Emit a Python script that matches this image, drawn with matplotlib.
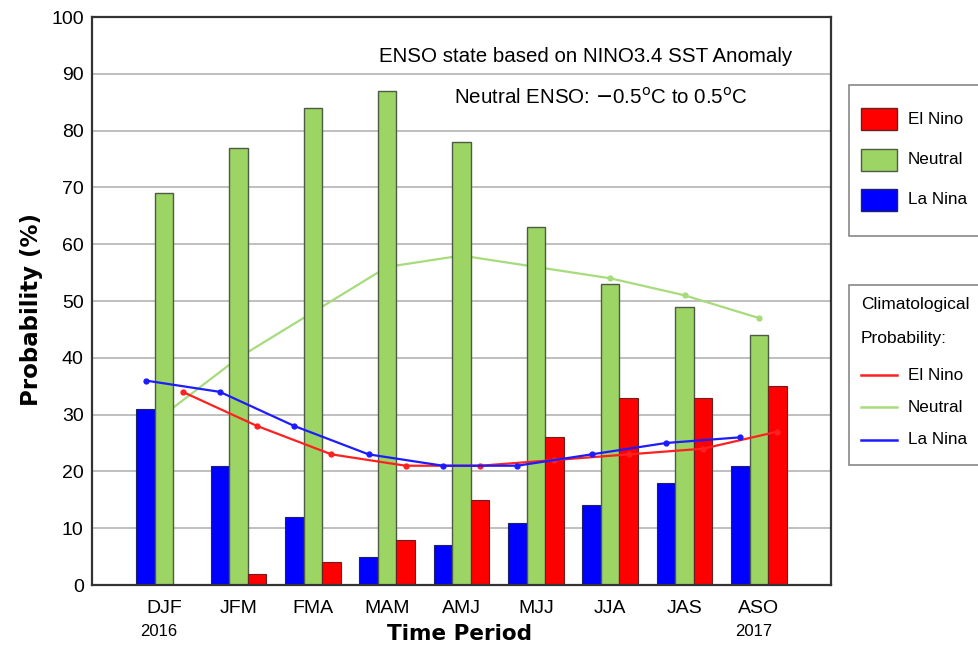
import matplotlib
matplotlib.use("Agg")
import matplotlib.pyplot as plt
import matplotlib.transforms as mtransforms
from matplotlib.patches import Rectangle
from matplotlib.lines import Line2D
import numpy as np

plt.rcParams['font.family'] = ['Liberation Sans', 'DejaVu Sans']

periods = ["DJF", "JFM", "FMA", "MAM", "AMJ", "MJJ", "JJA", "JAS", "ASO"]
la_nina = [31, 21, 12, 5, 7, 11, 14, 18, 21]
neutral = [69, 77, 84, 87, 78, 63, 53, 49, 44]
el_nino = [0, 2, 4, 8, 15, 26, 33, 33, 35]
clim_el_nino = [34, 28, 23, 21, 21, 22, 23, 24, 27]
clim_neutral = [30, 40, 48, 56, 58, 56, 54, 51, 47]
clim_la_nina = [36, 34, 28, 23, 21, 21, 23, 25, 26]
yticks = list(range(0, 101, 10))

RED = "#ff0000"
GREEN = "#9dd565"
BLUE = "#0000ff"
LRED = "#ff2020"
LGREEN = "#a6dc7c"
LBLUE = "#1c1cff"
EDGE = "#4d5a45"

W, H = 979, 648
fig = plt.figure(figsize=(W / 100, H / 100), dpi=100)
ax = fig.add_axes([92 / W, 1 - 585 / H, (831 - 92) / W, (585 - 17) / H])

x = np.arange(len(periods))
bw = 0.25
ax.bar(x - bw, la_nina, bw, color=BLUE, edgecolor="#20206a", linewidth=0.8, zorder=2)
ax.bar(x, neutral, bw, color=GREEN, edgecolor=EDGE, linewidth=1.0, zorder=2)
ax.bar(x + bw, el_nino, bw, color=RED, edgecolor="#6a2020", linewidth=0.8, zorder=2)

ax.plot(x, clim_neutral, color=LGREEN, lw=1.6, marker="o", ms=3.5, zorder=1.5)
ax.plot(x + bw, clim_el_nino, color=LRED, lw=1.6, marker="o", ms=3.5, zorder=3)
ax.plot(x - bw, clim_la_nina, color=LBLUE, lw=1.6, marker="o", ms=3.5, zorder=3)

ax.set_xlim(-0.97, 8.97)
ax.set_ylim(0, 100)
ax.set_yticks(yticks)
ax.set_yticklabels([str(t) for t in yticks], fontsize=14)
ax.set_xticks(x)
ax.set_xticklabels(periods, fontsize=14)
ax.tick_params(axis="both", length=0)
ax.tick_params(axis="x", pad=11)
ax.tick_params(axis="y", pad=6)
ax.yaxis.grid(True, color="#b4b4b4", lw=1.2, zorder=0)
ax.set_axisbelow(True)
for s in ax.spines.values():
    s.set_color("#333333")
    s.set_linewidth(1.6)

ax.set_ylabel("Probability (%)", fontsize=16.5, fontweight="bold",
              family=["DejaVu Sans"])
ax.yaxis.set_label_coords(-0.066, 0.485)

trans = mtransforms.blended_transform_factory(ax.transData, fig.transFigure)
ax.text(x[0] - 0.07, 1 - 632 / H, "2016", transform=trans, ha="center", va="center", fontsize=12)
ax.text(x[-1] - 0.07, 1 - 632 / H, "2017", transform=trans, ha="center", va="center", fontsize=12)
fig.text(460 / W, 1 - 634 / H, "Time Period", ha="center", va="center", fontsize=15.5,
         fontweight="bold", family=["DejaVu Sans"])

fig.text(586 / W, 1 - 57 / H, "ENSO state based on NINO3.4 SST Anomaly", ha="center", va="center", fontsize=14.8)
fig.text(601 / W, 1 - 98 / H, r"Neutral ENSO: $-$0.5$^{\rm o}$C to 0.5$^{\rm o}$C", ha="center", va="center", fontsize=14.8)

def px(xp, yp):
    return (xp / W, 1 - yp / H)

# Legend box 1
fig.add_artist(Rectangle(px(849, 236), (990 - 849) / W, (236 - 85) / H, transform=fig.transFigure,
                         facecolor="white", edgecolor="#888888", lw=1.2, clip_on=False))
for yc, col, ec, lab in [(119, RED, "#6a2020", "El Nino"), (160, GREEN, EDGE, "Neutral"), (200, BLUE, "#20206a", "La Nina")]:
    fig.add_artist(Rectangle(px(861, yc + 11), 36 / W, 22 / H, transform=fig.transFigure,
                             facecolor=col, edgecolor=ec, lw=1.0))
    fig.text(908 / W, 1 - yc / H, lab, ha="left", va="center", fontsize=12.3)

# Legend box 2
fig.add_artist(Rectangle(px(849, 465), (990 - 849) / W, (465 - 285) / H, transform=fig.transFigure,
                         facecolor="white", edgecolor="#888888", lw=1.2, clip_on=False))
fig.text(861 / W, 1 - 305 / H, "Climatological", ha="left", va="center", fontsize=12.5)
fig.text(861 / W, 1 - 339 / H, "Probability:", ha="left", va="center", fontsize=12.5)
for yc, col, lab in [(375, LRED, "El Nino"), (407, LGREEN, "Neutral"), (440, LBLUE, "La Nina")]:
    fig.add_artist(Line2D([861 / W, 897 / W], [1 - yc / H, 1 - yc / H], transform=fig.transFigure, color=col, lw=1.8))
    fig.text(908 / W, 1 - yc / H, lab, ha="left", va="center", fontsize=12.3)

fig.savefig("out.png", dpi=100)
